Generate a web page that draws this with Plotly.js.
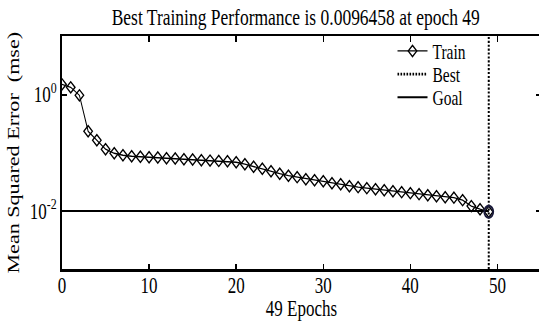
<!DOCTYPE html>
<html>
<head>
<meta charset="utf-8">
<script src="https://cdn.plot.ly/plotly-3.0.1.min.js"></script>
<style>
html,body{margin:0;padding:0;overflow:hidden;background:#fff;width:539px;height:321px;}
/* the reference figure is stretched vertically (~1.3x); reproduce that aspect */
#chart{width:542px;height:247px;transform:scaleY(1.3);transform-origin:0 0;}
</style>
</head>
<body>
<div id="chart"></div>
<script>
const epochs = Array.from({length: 50}, (_, i) => i);
const trainMSE = [
  1.50, 1.332, 0.971, 0.234, 0.164, 0.115, 0.098, 0.0906, 0.0871, 0.0853,
  0.0837, 0.0827, 0.0805, 0.0795, 0.0773, 0.0764, 0.0743, 0.0734, 0.0723, 0.0714,
  0.0687, 0.0635, 0.0575, 0.0531, 0.0481, 0.0436, 0.0403, 0.0380, 0.0351, 0.0337,
  0.0324, 0.0299, 0.0288, 0.0266, 0.0256, 0.0246, 0.0236, 0.0227, 0.0218, 0.0210,
  0.0202, 0.0194, 0.0186, 0.0179, 0.0172, 0.0169, 0.0153, 0.0121, 0.0107, 0.0096458
];
const bestEpoch = 49;
const bestPerf = 0.0096458;
const goal = 0.01;
const bestLineY = [0.001, 10];
const goalLineX = [0, 49];
const xTicks = [0, 10, 20, 30, 40, 50];
const yTickVals = [1, 0.01];
const yTickText = ['10<sup>0</sup>', '10<sup>-2</sup>'];
const legendNames = ['Train', 'Best', 'Goal'];

const FONT = 'Liberation Serif, Times New Roman, serif';
const LEG_STEP = 17.8;

const traces = [
  {
    x: epochs, y: trainMSE, name: legendNames[0], mode: 'lines+markers',
    line: {color: '#000', width: 1},
    marker: {symbol: 'diamond-open', size: 6.6, color: '#000', line: {color: '#000', width: 1.2}}
  },
  {
    x: [bestEpoch, bestEpoch], y: bestLineY, name: legendNames[1], mode: 'lines',
    line: {color: '#000', width: 2, dash: '1.6px,1.4px'}
  },
  {
    x: goalLineX, y: [goal, goal], name: legendNames[2], mode: 'lines',
    line: {color: '#000', width: 1.5}
  },
  {
    x: [bestEpoch], y: [bestPerf], mode: 'markers', showlegend: false,
    marker: {symbol: 'circle-open', size: 9, color: '#1a1a3a', line: {color: '#1a1a3a', width: 1.8}}
  }
];

const layout = {
  width: 542, height: 247,
  margin: {l: 62, r: 1, t: 28, b: 40},
  paper_bgcolor: '#fff', plot_bgcolor: '#fff',
  font: {family: FONT, size: 17, color: '#000'},
  title: {text: 'Best Training Performance is 0.0096458 at epoch 49', font: {family: FONT, size: 17.5, color: '#000'},
          x: 0.488, xref: 'paper', xanchor: 'center', y: 0.947, yref: 'container', yanchor: 'middle'},
  xaxis: {
    range: [0, 55], tickvals: xTicks, showgrid: false, zeroline: false,
    showline: true, linecolor: '#000', linewidth: 2, mirror: 'ticks',
    ticks: 'inside', ticklen: 4, tickwidth: 1.5, tickcolor: '#000',
    ticklabelstandoff: -4,
    tickfont: {family: FONT, size: 17, color: '#000'},
    title: {text: '49 Epochs', font: {family: FONT, size: 17, color: '#000'}, standoff: 3}
  },
  yaxis: {
    type: 'log', range: [-3, 1], tickvals: yTickVals, ticktext: yTickText,
    showgrid: false, zeroline: false,
    showline: true, linecolor: '#000', linewidth: 2, mirror: 'ticks',
    ticks: 'inside', ticklen: 5, tickwidth: 1.5, tickcolor: '#000',
    tickfont: {family: FONT, size: 17, color: '#000'},
    title: {text: 'Mean Squared Error \u00a0(mse)', font: {family: FONT, size: 17, color: '#000'}, standoff: 6}
  },
  legend: {
    x: 0.69, y: 1.03, xanchor: 'left', yanchor: 'top',
    bgcolor: 'rgba(255,255,255,0)', borderwidth: 0,
    font: {family: FONT, size: 15.5, color: '#000'},
    tracegroupgap: 0
  },
  showlegend: true
};

Plotly.newPlot('chart', traces, layout, {displayModeBar: false, staticPlot: true}).then(gd => {
  // tighten legend rows like the MATLAB legend
  const items = gd.querySelectorAll('.legend .traces');
  let y0 = null;
  items.forEach((el, i) => {
    const t = el.getAttribute('transform') || '';
    const m = /translate\(\s*([-\d.]+)[ ,]+([-\d.]+)\s*\)/.exec(t);
    if (!m) return;
    if (y0 === null) y0 = parseFloat(m[2]);
    el.setAttribute('transform', 'translate(' + m[1] + ',' + (y0 + i * LEG_STEP) + ')');
  });
});
</script>
</body>
</html>
